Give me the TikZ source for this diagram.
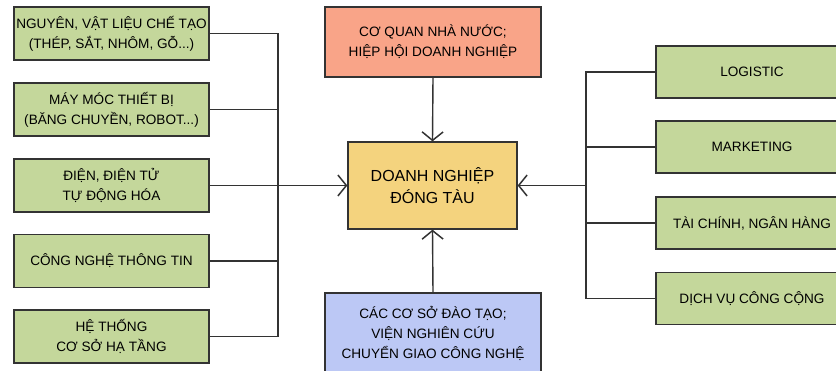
\documentclass[tikz,border=0pt]{standalone}
\usepackage{fontspec}
\setmainfont{Liberation Sans}
\usetikzlibrary{arrows.meta}
\definecolor{boxgreen}{HTML}{C4D79B}
\definecolor{boxyellow}{HTML}{F4D37E}
\definecolor{boxsalmon}{HTML}{F9A488}
\definecolor{boxblue}{HTML}{BCC8F5}
\definecolor{edge}{HTML}{333333}
\begin{document}
\begin{tikzpicture}[x=1pt,y=-1pt,
  box/.style={draw=edge, line width=1.3pt, align=center, inner sep=0pt,
    font=\fontsize{13.6}{20}\selectfont},
  sidebox/.style={box, fill=boxgreen, minimum height=53pt},
  link/.style={draw=edge, line width=1.4pt},
  feed/.style={link, -{Straight Barb[length=8.5pt,width=21pt,line width=1.5pt]}}]
\useasboundingbox (0,0) rectangle (836,370);
\clip (0,0) rectangle (836,370);

% central enterprise
\node[box, fill=boxyellow, minimum width=169pt, minimum height=87pt,
  font=\fontsize{16}{22}\selectfont] (core) at (432.5,185.5)
  {DOANH NGHIỆP\\ĐÓNG TÀU};

% top and bottom partners
\node[box, fill=boxsalmon, minimum width=216pt, minimum height=70pt] (gov) at (433,42)
  {CƠ QUAN NHÀ NƯỚC;\\HIỆP HỘI DOANH NGHIỆP};
\node[box, fill=boxblue, minimum width=216pt, minimum height=80pt] (edu) at (433,333)
  {CÁC CƠ SỞ ĐÀO TẠO;\\VIỆN NGHIÊN CỨU\\CHUYỂN GIAO CÔNG NGHỆ};

% suppliers on the left
\node[sidebox, minimum width=195pt] (l1) at (111.5,33.5) {NGUYÊN, VẬT LIỆU CHẾ TẠO\\(THÉP, SẮT, NHÔM, GỖ...)};
\node[sidebox, minimum width=195pt] (l2) at (111.5,109.5) {MÁY MÓC THIẾT BỊ\\(BĂNG CHUYỀN, ROBOT...)};
\node[sidebox, minimum width=195pt] (l3) at (111.5,185.5) {ĐIỆN, ĐIỆN TỬ\\TỰ ĐỘNG HÓA};
\node[sidebox, minimum width=195pt] (l4) at (111.5,261) {CÔNG NGHỆ THÔNG TIN};
\node[sidebox, minimum width=195pt] (l5) at (111.5,336.5) {HỆ THỐNG\\CƠ SỞ HẠ TẦNG};

% services on the right
\node[sidebox, minimum width=192pt, minimum height=52pt] (r1) at (752,72) {LOGISTIC};
\node[sidebox, minimum width=192pt, minimum height=52pt] (r2) at (752,147) {MARKETING};
\node[sidebox, minimum width=192pt, minimum height=52pt] (r3) at (752,223) {TÀI CHÍNH, NGÂN HÀNG};
\node[sidebox, minimum width=192pt, minimum height=52pt] (r4) at (752,298.5) {DỊCH VỤ CÔNG CỘNG};

% bus junctions
\coordinate (lbus) at (278,185.5);
\coordinate (rbus) at (586,185.5);

% left bus
\foreach \n in {l1,l2,l3,l4,l5} \draw[link] (\n.east) -| (lbus);
\draw[feed] (lbus) -- (core.west);

% right bus
\foreach \n in {r1,r2,r3,r4} \draw[link] (\n.west) -| (rbus);
\draw[feed] (rbus) -- (core.east);

% vertical feeds
\draw[feed] (gov.south) -- (core.north);
\draw[feed] (edu.north) -- (core.south);
\end{tikzpicture}
\end{document}
